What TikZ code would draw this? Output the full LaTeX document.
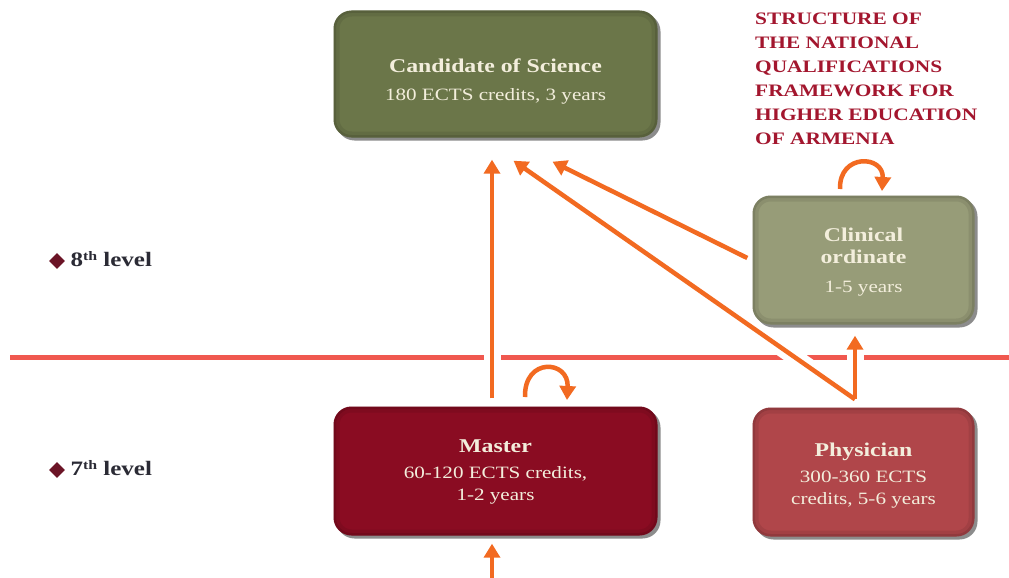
\documentclass[tikz,border=0pt]{standalone}
\usepackage{fontspec}
\setmainfont{Liberation Serif}[FakeStretch=1.22]
\usetikzlibrary{arrows.meta,shadows,shapes.geometric}
\definecolor{candcol}{HTML}{6B7649}
\definecolor{clincol}{HTML}{979C78}
\definecolor{mastcol}{HTML}{8A0C22}
\definecolor{physcol}{HTML}{B0464A}
\definecolor{boxtext}{HTML}{F3EEDC}
\definecolor{arrcol}{HTML}{F26A21}
\definecolor{linecol}{HTML}{F0584F}
\definecolor{titlecol}{HTML}{A3162E}
\definecolor{labelcol}{HTML}{2B2B35}
\definecolor{diamcol}{HTML}{6B1426}
\newcommand{\hdfont}{\fontsize{19.5}{23}\selectfont\bfseries}
\newcommand{\subfont}{\fontsize{17.3}{22}\selectfont}
\newcommand{\thsup}{\raisebox{6.5pt}{\fontsize{13}{13}\selectfont th}}
\begin{document}
\begin{tikzpicture}[x=1pt,y=-1pt,
  qbox/.style={rounded corners=18pt, inner sep=0pt,
    path picture={
      \draw[black, opacity=0.08, line width=12pt, rounded corners=18pt]
        (path picture bounding box.south west) rectangle (path picture bounding box.north east);
      \draw[black, opacity=0.1, line width=5pt, rounded corners=18pt]
        (path picture bounding box.south west) rectangle (path picture bounding box.north east);},
    drop shadow={shadow xshift=3pt,shadow yshift=-3pt,opacity=0.45,fill=black}},
  qtxt/.style={align=center, text=boxtext, inner sep=0pt, font=\subfont},
  arr/.style={draw=arrcol, line width=4.5pt, -{Triangle[width=16pt,length=14pt]}},
  gap/.style={draw=white, line width=17pt},
  lvl/.style={anchor=west, text=labelcol, font=\fontsize{20.5}{23}\selectfont\bfseries},
  dmd/.style={diamond, fill=diamcol, minimum size=16pt, inner sep=0pt}
]
\fill[white] (0,0) rectangle (1009,578);
\useasboundingbox (0,0) rectangle (1009,578);

% boxes
\node[qbox, fill=candcol, minimum width=324pt, minimum height=127pt] (cand) at (495.5,74) {};
\node[qtxt] (candt) at (495.5,82)
  {{\hdfont Candidate of Science}\\[6pt]180 ECTS credits, 3 years};
\node[qbox, fill=clincol, minimum width=222pt, minimum height=129pt] (clin) at (863.5,260) {};
\node[qtxt] (clint) at (863.5,262)
  {{\hdfont Clinical}\\{\hdfont ordinate}\\[7pt]1-5 years};
\node[qbox, fill=mastcol, minimum width=324pt, minimum height=129pt] (mast) at (495.5,471) {};
\node[qtxt] (mastt) at (495.5,472)
  {{\hdfont Master}\\[4pt]60-120 ECTS credits,\\1-2 years};
\node[qbox, fill=physcol, minimum width=222pt, minimum height=129pt] (phys) at (863.5,472) {};
\node[qtxt] (physt) at (863.5,476)
  {{\hdfont Physician}\\[4pt]300-360 ECTS\\credits, 5-6 years};

% title
\node[anchor=north west, align=left, inner sep=0pt, text=titlecol,
  font=\fontsize{17.5}{24}\selectfont\bfseries] (title) at (755,13)
  {STRUCTURE OF\\THE NATIONAL\\QUALIFICATIONS\\FRAMEWORK FOR\\HIGHER EDUCATION\\OF ARMENIA};

% level labels
\node[dmd] (d8) at (57,261) {};
\node[lvl] (l8) at (67,259) {8\thsup{} level};
\node[dmd] (d7) at (57,470) {};
\node[lvl] (l7) at (67,468) {7\thsup{} level};

% level divider
\coordinate (hl1) at (10,357);
\coordinate (hl2) at (1009,357);
\draw[linecol, line width=5pt] (hl1) -- (hl2);

% connector end points
\path (mast.north) ++(-3.5,-8) coordinate (ms);
\path (phys.north) ++(-8.5,-8) coordinate (ps);
\path (clin.south) ++(-8.5,11) coordinate (ct);
\path (clin.west) ++(-5,-2) coordinate (cw);
\path (mast.south) ++(-3.5,8) coordinate (mb);
\coordinate (bot) at (492,578);
\path (cand.south) ++(-3.5,22) coordinate (t1);
\path (cand.south) ++(18,23) coordinate (t2);
\path (cand.south) ++(57,24) coordinate (t3);
\coordinate (ml1) at (525,397);
\coordinate (ml2) at (567,400);
\coordinate (cl1) at (840,189);
\coordinate (cl2) at (882,191);

% gaps in the divider
\draw[gap] (ms) -- ++(0,-60);
\draw[gap] (ps) -- (t2);
\draw[gap] (ps) -- (ct);

% arrows
\draw[arr] (ms) -- (t1);
\draw[arr] (ps) -- (t2);
\draw[arr] (cw) -- (t3);
\draw[arr] (ps) -- (ct);
\draw[arr] (bot) -- (mb);
\draw[arr] (ml1) .. controls +(-1,-40) and +(2,-40) .. (ml2);
\draw[arr] (cl1) .. controls +(-1,-36) and +(2,-36) .. (cl2);
\end{tikzpicture}
\end{document}
